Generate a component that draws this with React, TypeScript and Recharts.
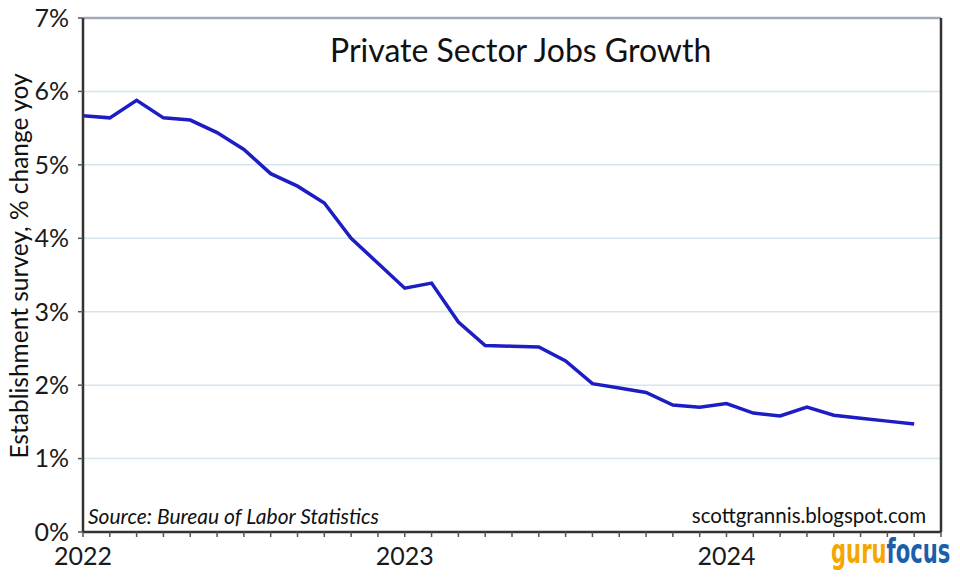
import { LineChart, Line, XAxis, YAxis, CartesianGrid, ReferenceLine } from 'recharts';

const months = [
  'Jan 2022', 'Feb 2022', 'Mar 2022', 'Apr 2022', 'May 2022', 'Jun 2022',
  'Jul 2022', 'Aug 2022', 'Sep 2022', 'Oct 2022', 'Nov 2022', 'Dec 2022',
  'Jan 2023', 'Feb 2023', 'Mar 2023', 'Apr 2023', 'May 2023', 'Jun 2023',
  'Jul 2023', 'Aug 2023', 'Sep 2023', 'Oct 2023', 'Nov 2023', 'Dec 2023',
  'Jan 2024', 'Feb 2024', 'Mar 2024', 'Apr 2024', 'May 2024', 'Jun 2024',
  'Jul 2024', 'Aug 2024',
];

// private sector payrolls, % change yoy
const jobsGrowth = [
  5.67, 5.64, 5.88, 5.64, 5.61, 5.44, 5.21, 4.88, 4.71, 4.48, 4.0, 3.66,
  3.32, 3.39, 2.86, 2.54, 2.53, 2.52, 2.33, 2.02, 1.96, 1.9, 1.73, 1.7,
  1.75, 1.62, 1.58, 1.7, 1.59, 1.55, 1.51, 1.47,
];

const yTicks = [0, 1, 2, 3, 4, 5, 6, 7];
const yearLabels = ['2022', '2023', '2024'];
const monthTicks = Array.from({ length: 33 }, (_, i) => i);

const data = months.map((m, i) => ({ idx: i, month: m, value: jobsGrowth[i] }));

const FONT = 'Lato, "DejaVu Sans", sans-serif';

export default function App() {
  return (
    <div style={{ position: 'absolute', left: 0, top: 0, width: 960, height: 581, background: '#fff', fontFamily: FONT, overflow: 'hidden' }}>
      <LineChart width={960} height={581} data={data} margin={{ top: 18, right: 19, left: 0, bottom: 0 }}>
        <CartesianGrid horizontal vertical={false} stroke="#d4e6ee" strokeWidth={1.5} />
        <XAxis
          dataKey="idx"
          type="number"
          domain={[0, 32]}
          ticks={monthTicks}
          interval={0}
          height={49}
          tickSize={5}
          tickMargin={10}
          tickFormatter={(v) => (v % 12 === 0 ? yearLabels[v / 12] ?? '' : '')}
          tick={{ fill: '#1a1a1a', fontSize: 25, fontFamily: FONT }}
          axisLine={{ stroke: '#333', strokeWidth: 2.5 }}
          tickLine={{ stroke: '#555', strokeWidth: 1.5 }}
        />
        <YAxis
          domain={[0, 7]}
          ticks={yTicks}
          width={83}
          tickSize={5}
          tickMargin={9}
          tickFormatter={(v) => `${v}%`}
          tick={{ fill: '#1a1a1a', fontSize: 25, fontFamily: FONT }}
          axisLine={{ stroke: '#333', strokeWidth: 2.5 }}
          tickLine={{ stroke: '#555', strokeWidth: 1.5 }}
        />
        <ReferenceLine y={7} stroke="#a3abba" strokeWidth={2.5} />
        <ReferenceLine x={32} stroke="#333" strokeWidth={2.5} />
        <Line
          type="linear"
          dataKey="value"
          stroke="#1d1dc4"
          strokeWidth={3.5}
          dot={false}
          isAnimationActive={false}
        />
      </LineChart>

      <div style={{ position: 'absolute', left: 330, top: 30, fontSize: 32, color: '#111', whiteSpace: 'nowrap' }}>
        Private Sector Jobs Growth
      </div>
      <div
        style={{
          position: 'absolute', left: 18, top: 266, fontSize: 24.5, color: '#111', whiteSpace: 'nowrap',
          transform: 'translate(-50%, -50%) rotate(-90deg)',
        }}
      >
        Establishment survey, % change yoy
      </div>
      <div style={{ position: 'absolute', left: 88, top: 503, fontSize: 21, fontStyle: 'italic', color: '#111', whiteSpace: 'nowrap' }}>
        Source: Bureau of Labor Statistics
      </div>
      <div style={{ position: 'absolute', right: 34, top: 503, fontSize: 20.5, color: '#111', whiteSpace: 'nowrap' }}>
        scottgrannis.blogspot.com
      </div>
      <div
        style={{
          position: 'absolute', left: 831, top: 532, fontSize: 33, fontWeight: 700, whiteSpace: 'nowrap',
          fontFamily: '"DejaVu Sans", sans-serif', transform: 'scaleX(0.64)', transformOrigin: 'left top',
        }}
      >
        <span style={{ color: '#f5a700' }}>guru</span>
        <span style={{ color: '#1b5faa' }}>focus</span>
      </div>
    </div>
  );
}
